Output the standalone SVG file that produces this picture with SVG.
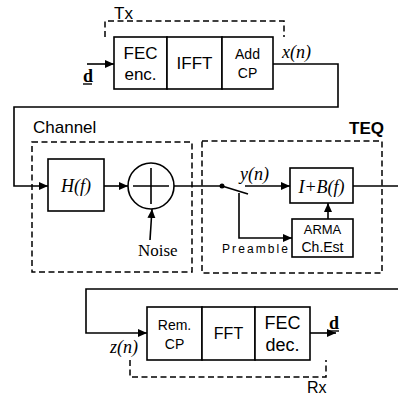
<svg xmlns="http://www.w3.org/2000/svg" width="398" height="398" viewBox="0 0 398 398">
<style>
.box{fill:#fff;stroke:#000;stroke-width:1.6}
.ln{fill:none;stroke:#000;stroke-width:1.6}
.dash{fill:none;stroke:#000;stroke-width:1.5;stroke-dasharray:6 3.5}
.sans{font-family:"Liberation Sans",Arial,sans-serif;fill:#000}
.ser{font-family:"Liberation Serif","Times New Roman",serif;fill:#000}
.it{font-family:"Liberation Serif","Times New Roman",serif;font-style:italic;fill:#000}
</style>
<defs>
<marker id="ar" markerUnits="userSpaceOnUse" markerWidth="10" markerHeight="9" refX="9" refY="4" orient="auto">
<path d="M0,0 L9,4 L0,8 z" fill="#000"/>
</marker>
</defs>
<rect width="398" height="398" fill="#fff"/>

<g id="frames">
<path class="dash" d="M105,37 L105,21 L284,21 L284,37"/>
<text class="sans" x="114" y="19" font-size="17">Tx</text>
<rect class="dash" x="32" y="142" width="160" height="130"/>
<text class="sans" x="33" y="133" font-size="17">Channel</text>
<rect class="dash" x="202" y="141" width="180" height="132"/>
<text class="sans" x="349" y="134" font-size="17" font-weight="600">TEQ</text>
<path class="dash" d="M130,360 L130,377 L326,377 L326,360"/>
<text class="sans" x="307" y="393" font-size="16">Rx</text>
</g>

<g id="connectors">
<path class="ln" d="M87,64 L114,64" marker-end="url(#ar)"/>
<path class="ln" d="M273,64 L338,64 L338,107 L14,107 L14,186 L48,186" marker-end="url(#ar)"/>
<path class="ln" d="M104,186 L128,186" marker-end="url(#ar)"/>
<path class="ln" d="M150,240 L152,209" marker-end="url(#ar)"/>
<path class="ln" d="M174,186 L222,186"/>
<path class="ln" d="M222,186 L248,194"/>
<path class="ln" d="M245,186 L290,186" marker-end="url(#ar)"/>
<path class="ln" d="M239,193 L239,238 L292,238" marker-end="url(#ar)"/>
<path class="ln" d="M328,219 L328,203" marker-end="url(#ar)"/>
<path class="ln" d="M353,186 L398,186"/>
<path class="ln" d="M398,289 L86,289 L86,333 L147,333" marker-end="url(#ar)"/>
<path class="ln" d="M310,333 L336,333" marker-end="url(#ar)"/>
<circle cx="222" cy="186" r="2.5" fill="#000"/>
</g>

<g id="labels">
<text class="ser" x="83" y="82" font-size="18" font-weight="bold">d</text>
<line x1="83" y1="84" x2="92" y2="84" stroke="#000" stroke-width="1.4"/>
<text class="it" x="282" y="58" font-size="18">x(n)</text>
<text class="it" x="240" y="180" font-size="18">y(n)</text>
<text class="it" x="110" y="353" font-size="18">z(n)</text>
<text class="ser" x="329" y="329" font-size="18" font-weight="bold">d</text>
<line x1="329" y1="331" x2="339" y2="331" stroke="#000" stroke-width="1.4"/>
<text class="ser" x="138" y="256" font-size="17">Noise</text>
<text class="sans" x="222" y="253" font-size="12" textLength="66" lengthAdjust="spacing">Preamble</text>
</g>

<g id="fec-enc">
<rect class="box" x="114" y="37" width="53" height="52"/>
<text class="sans" x="140.5" y="59" font-size="17" text-anchor="middle">FEC</text>
<text class="sans" x="140.5" y="80" font-size="17" text-anchor="middle">enc.</text>
</g>
<g id="ifft">
<rect class="box" x="167" y="37" width="55" height="52"/>
<text class="sans" x="194.5" y="69" font-size="17" text-anchor="middle">IFFT</text>
</g>
<g id="add-cp">
<rect class="box" x="222" y="37" width="51" height="52"/>
<text class="sans" x="247.5" y="59" font-size="14" text-anchor="middle">Add</text>
<text class="sans" x="247.5" y="78" font-size="14" text-anchor="middle">CP</text>
</g>

<g id="hf">
<rect class="box" x="48" y="159" width="56" height="52"/>
<text class="it" x="76" y="192" font-size="18" text-anchor="middle">H(f)</text>
</g>
<g id="sum">
<circle class="box" cx="151" cy="186" r="23"/>
<path class="ln" d="M133,186 L169,186 M151,168 L151,204"/>
</g>

<g id="ib">
<rect class="box" x="290" y="168" width="63" height="35"/>
<text class="it" x="321.5" y="193" font-size="18" text-anchor="middle">I+B(f)</text>
</g>
<g id="arma">
<rect class="box" x="292" y="219" width="61" height="38"/>
<text class="sans" x="322.5" y="234" font-size="13" text-anchor="middle">ARMA</text>
<text class="sans" x="322.5" y="252" font-size="14" text-anchor="middle">Ch.Est</text>
</g>

<g id="rem-cp">
<rect class="box" x="147" y="307" width="55" height="53"/>
<text class="sans" x="174.5" y="330" font-size="14" text-anchor="middle">Rem.</text>
<text class="sans" x="174.5" y="349" font-size="14" text-anchor="middle">CP</text>
</g>
<g id="fft">
<rect class="box" x="202" y="307" width="53" height="53"/>
<text class="sans" x="228.5" y="339" font-size="16" text-anchor="middle">FFT</text>
</g>
<g id="fec-dec">
<rect class="box" x="255" y="307" width="55" height="53"/>
<text class="sans" x="282.5" y="329" font-size="18" text-anchor="middle">FEC</text>
<text class="sans" x="282.5" y="351" font-size="18" text-anchor="middle">dec.</text>
</g>
</svg>
